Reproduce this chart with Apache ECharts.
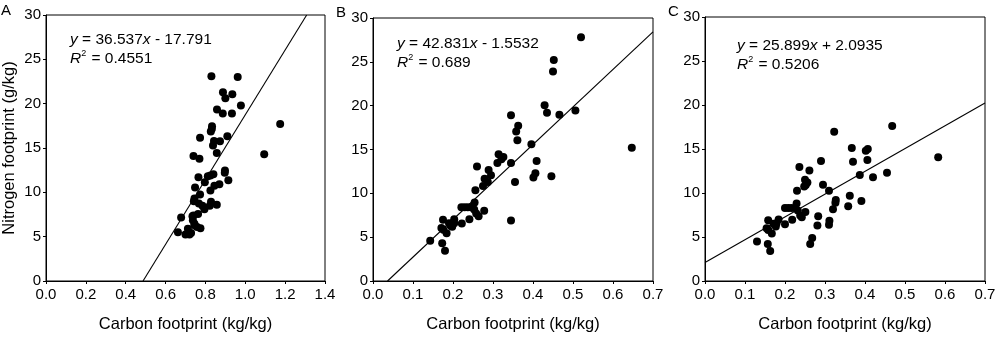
<!DOCTYPE html>
<html><head><meta charset="utf-8">
<script src="https://cdn.jsdelivr.net/npm/echarts@6/dist/echarts.min.js"></script>
<style>html,body{margin:0;padding:0;background:#fff}#c{width:1000px;height:338px}</style>
</head><body><div id="c"></div>
<script>
// ---- data ----
const panelLabels = ['A', 'B', 'C'];
const xTitle = 'Carbon footprint (kg/kg)';
const yTitle = 'Nitrogen footprint (g/kg)';
const xMaxes = [1.4, 0.7, 0.7];
const xIntervals = [0.2, 0.1, 0.1];
const slopes = [36.537, 42.831, 25.899];
const intercepts = [-17.791, -1.5532, 2.0935];
const r2Values = ['0.4551', '0.689', '0.5206'];
const eqTexts = ['36.537x - 17.791', '42.831x - 1.5532', '25.899x + 2.0935'];

const pointsA = [
 [0.830,23.1],[0.962,23.0],[0.888,21.3],[0.935,21.05],[0.900,20.6],[0.978,19.8],[0.858,19.35],
 [0.887,18.9],[0.933,18.9],[1.175,17.7],[0.833,17.45],[0.832,17.15],[0.827,16.85],[0.773,16.15],
 [0.910,16.33],[0.843,15.8],[0.873,15.75],[0.838,15.27],[0.857,14.44],[0.740,14.1],[0.770,13.8],
 [1.095,14.3],[0.898,12.45],[0.897,12.2],[0.915,11.35],[0.840,12.05],[0.825,11.9],[0.812,11.8],
 [0.765,11.7],[0.797,11.15],[0.845,10.75],[0.870,10.9],[0.825,10.2],[0.748,10.55],[0.773,9.75],
 [0.745,9.3],[0.742,9.0],[0.767,8.75],[0.785,8.5],[0.828,8.95],[0.822,8.5],[0.795,8.1],
 [0.763,7.55],[0.678,7.15],[0.735,7.3],[0.737,6.85],[0.745,6.45],[0.758,6.1],[0.775,5.95],
 [0.662,5.5],[0.712,5.9],[0.700,5.25],[0.720,5.25],[0.728,5.4],[0.745,6.3],[0.740,7.4],[0.857,8.6]
];
const pointsB = [
 [0.520,27.8],[0.452,25.2],[0.450,23.9],[0.429,20.05],[0.435,19.2],[0.466,18.95],[0.506,19.45],
 [0.345,18.9],[0.363,17.7],[0.358,17.05],[0.361,16.05],[0.396,15.6],[0.647,15.2],[0.314,14.45],
 [0.326,14.15],[0.321,13.9],[0.311,13.45],[0.345,13.45],[0.409,13.7],[0.260,13.05],[0.289,12.65],
 [0.295,12.05],[0.401,11.8],[0.406,12.3],[0.446,11.95],[0.355,11.3],[0.279,11.65],[0.287,11.3],
 [0.275,10.85],[0.256,10.35],[0.254,8.95],[0.221,8.4],[0.229,8.4],[0.237,8.4],[0.245,8.4],
 [0.253,8.15],[0.258,7.7],[0.264,7.4],[0.278,8.0],[0.241,7.05],[0.345,6.9],[0.222,6.55],
 [0.175,7.0],[0.203,7.05],[0.203,6.6],[0.190,6.6],[0.194,6.3],[0.198,6.2],[0.171,6.05],
 [0.176,5.85],[0.184,5.45],[0.143,4.6],[0.173,4.3],[0.180,3.45]
];
const pointsC = [
 [0.468,17.6],[0.323,16.95],[0.367,15.1],[0.402,14.8],[0.407,15.0],[0.370,13.55],[0.406,13.75],
 [0.583,14.05],[0.290,13.65],[0.236,12.95],[0.261,12.55],[0.455,12.3],[0.387,12.05],[0.420,11.8],
 [0.250,11.5],[0.256,11.2],[0.248,10.75],[0.252,10.9],[0.230,10.25],[0.295,10.95],[0.310,10.25],
 [0.362,9.7],[0.391,9.1],[0.327,9.2],[0.326,8.9],[0.358,8.5],[0.320,8.15],[0.229,8.8],
 [0.200,8.3],[0.208,8.3],[0.216,8.3],[0.225,8.3],[0.232,8.0],[0.251,7.85],[0.238,7.45],
 [0.283,7.35],[0.218,6.95],[0.242,7.25],[0.311,6.85],[0.310,6.4],[0.281,6.3],[0.200,6.45],
 [0.184,7.0],[0.179,6.55],[0.177,6.2],[0.171,6.5],[0.158,6.9],[0.154,6.0],[0.158,5.8],
 [0.167,5.4],[0.130,4.5],[0.157,4.2],[0.163,3.4],[0.268,4.9],[0.263,4.2]
];
const allPoints = [pointsA, pointsB, pointsC];

// ---- layout ----
const FONT = 'Liberation Sans, Arial, sans-serif';
const grids = [
 {left: 45, top: 15, width: 280, height: 275},
 {left: 373, top: 18, width: 280, height: 274.5},
 {left: 705, top: 17, width: 280, height: 275}
];
const eqPos = [[70, 30], [397, 34], [737, 36]];
const labelPos = [[1, 3], [336, 5], [668, 4]];

function fitLine(i) {
  const m = slopes[i], b = intercepts[i], xmax = xMaxes[i];
  let x0 = b < 0 ? -b / m : 0;
  let x1 = (30 - b) / m;
  if (x1 > xmax) x1 = xmax;
  return [[x0, m * x0 + b], [x1, m * x1 + b]];
}

const option = {
  animation: false,
  backgroundColor: '#fff',
  textStyle: {fontFamily: FONT},
  grid: grids.map(g => Object.assign({show: true, borderColor: '#000', borderWidth: 1, containLabel: false}, g)),
  xAxis: grids.map((g, i) => ({
    gridIndex: i, type: 'value', min: 0, max: xMaxes[i], interval: xIntervals[i],
    name: xTitle, nameLocation: 'middle', nameGap: 35,
    nameTextStyle: {fontSize: 16.5, color: '#000', fontFamily: FONT},
    axisLine: {show: true, lineStyle: {color: '#000', width: 1}},
    axisTick: {show: true, length: 3, inside: false, lineStyle: {color: '#000'}},
    axisLabel: {fontSize: 15, color: '#000', margin: 6, fontFamily: FONT,
      formatter: v => v.toFixed(1)},
    splitLine: {show: false}
  })),
  yAxis: grids.map((g, i) => ({
    gridIndex: i, type: 'value', min: 0, max: 30, interval: 5,
    name: i === 0 ? yTitle : '', nameLocation: 'middle', nameGap: 28,
    nameTextStyle: {fontSize: 16.5, color: '#000', fontFamily: FONT},
    axisLine: {show: true, lineStyle: {color: '#000', width: 1}},
    axisTick: {show: true, length: 3, inside: false, lineStyle: {color: '#000'}},
    axisLabel: {fontSize: 15, color: '#000', margin: 5, fontFamily: FONT},
    splitLine: {show: false}
  })),
  series: [].concat(
    allPoints.map((pts, i) => ({
      type: 'scatter', xAxisIndex: i, yAxisIndex: i, data: pts,
      symbol: 'circle', symbolSize: 8, itemStyle: {color: '#000', opacity: 1}, silent: true
    })),
    allPoints.map((pts, i) => ({
      type: 'line', xAxisIndex: i, yAxisIndex: i, data: fitLine(i),
      symbol: 'none', lineStyle: {color: '#000', width: 1.1}, silent: true
    }))
  ),
  graphic: [].concat(
    panelLabels.map((t, i) => ({
      type: 'text', left: labelPos[i][0], top: labelPos[i][1],
      style: {text: t, font: '15px ' + FONT, fill: '#000'}
    })),
    eqTexts.map((t, i) => {
      const parts = t.split('x');
      return {
        type: 'text', left: eqPos[i][0], top: eqPos[i][1],
        style: {
          text: '{it|y} = ' + parts[0] + '{it|x}' + parts[1] + '\n{it|R}{sup|2} = ' + r2Values[i],
          font: '15.5px ' + FONT, fill: '#000', lineHeight: 19,
          rich: {
            it: {fontStyle: 'italic', fontSize: 15.5, fontFamily: FONT, fill: '#000', lineHeight: 19},
            sup: {fontSize: 9, fontFamily: FONT, fill: '#000', verticalAlign: 'top', lineHeight: 19, padding: [0, 1, 7, 0]}
          }
        }
      };
    })
  )
};

const chart = echarts.init(document.getElementById('c'), null, {renderer: 'canvas'});
chart.setOption(option);
</script></body></html>
